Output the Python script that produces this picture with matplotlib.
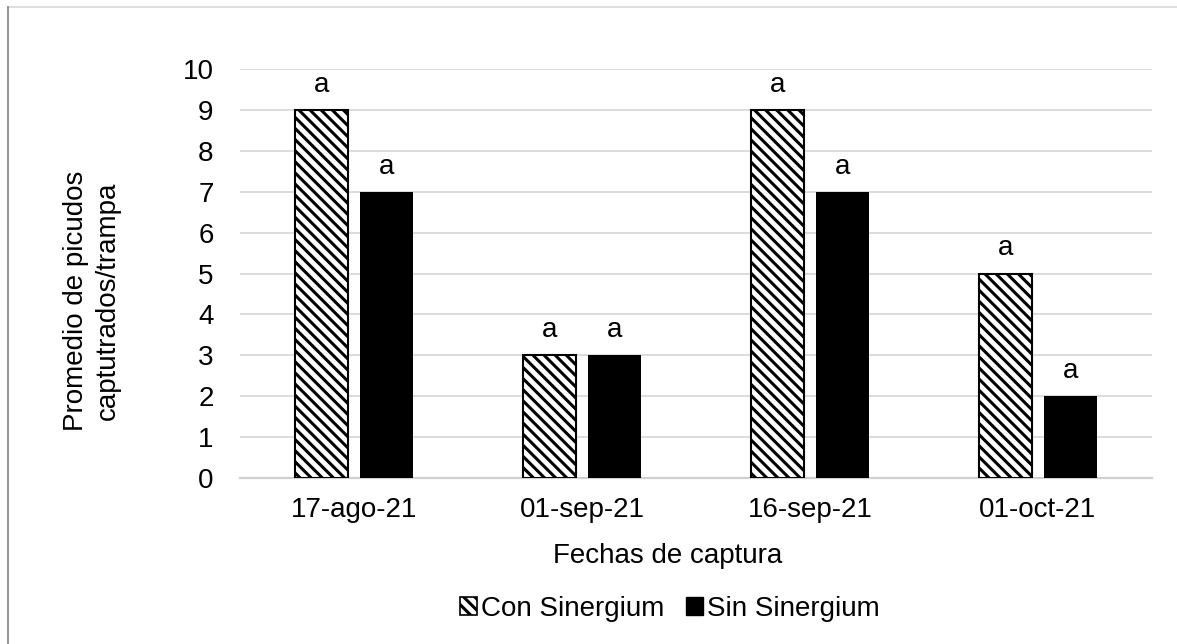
import matplotlib
matplotlib.use("Agg")
import matplotlib.pyplot as plt
import numpy as np
from matplotlib.lines import Line2D
from matplotlib.patches import Patch

fechas = ["17-ago-21", "01-sep-21", "16-sep-21", "01-oct-21"]
con_sinergium = [9, 3, 9, 5]
sin_sinergium = [7, 3, 7, 2]
letras_con = ["a", "a", "a", "a"]
letras_sin = ["a", "a", "a", "a"]

W, H = 1177, 644
FS = 20

plt.rcParams["font.family"] = ["Liberation Sans", "DejaVu Sans"]
plt.rcParams["hatch.linewidth"] = 2.2
plt.rcParams["hatch.color"] = "black"

fig = plt.figure(figsize=(W / 100, H / 100), dpi=100, facecolor="white")
ax = fig.add_axes([240 / W, 1 - 478 / H, 912 / W, 409 / H])

x = np.arange(len(fechas))
width = 0.23
offset = 0.142

bars_con = ax.bar(x - offset, con_sinergium, width, facecolor="white",
                  edgecolor="black", linewidth=1.5, hatch="\\\\\\", zorder=3)
bars_sin = ax.bar(x + offset, sin_sinergium, width, color="black", zorder=3)

for bars, letras in [(bars_con, letras_con), (bars_sin, letras_sin)]:
    for bar, txt in zip(bars, letras):
        ax.annotate(txt, (bar.get_x() + bar.get_width() / 2, bar.get_height()),
                    xytext=(0, 13), textcoords="offset points",
                    ha="center", va="baseline", fontsize=FS)

ax.set_xlim(-0.5, len(fechas) - 0.5)
ax.set_ylim(0, 10)
ax.set_yticks(range(0, 11))
ax.set_xticks(x)
ax.set_xticklabels(fechas)
ax.tick_params(axis="both", length=0, labelsize=FS)
ax.tick_params(axis="y", pad=19)
ax.tick_params(axis="x", pad=14)
ax.grid(axis="y", color="#d9d9d9", linewidth=1.3, zorder=0)
ax.set_axisbelow(True)
for side in ["top", "right", "left"]:
    ax.spines[side].set_visible(False)
ax.spines["bottom"].set_color("#d0d0d0")
ax.spines["bottom"].set_linewidth(1.6)

# axis titles placed like the original chart
fig.text(668 / W, 1 - 563 / H, "Fechas de captura", fontsize=FS,
         ha="center", va="baseline")
fig.text(92 / W, 1 - 301 / H, "Promedio de picudos\ncaptutrados/trampa",
         fontsize=FS, rotation=90, ha="center", va="center",
         multialignment="center", linespacing=1.3)

handles = [
    Patch(facecolor="white", edgecolor="black", hatch="\\\\\\", linewidth=1.2),
    Patch(facecolor="black", edgecolor="black"),
]
fig.legend(handles, ["Con Sinergium", "Sin Sinergium"], loc="center",
           bbox_to_anchor=(670 / W, 1 - 609 / H), ncol=2, frameon=False,
           fontsize=FS, handlelength=0.6, handleheight=0.6, handletextpad=0.15,
           columnspacing=0.8, borderpad=0)

# chart frame edges visible in the reference
fig.add_artist(Line2D([8 / W, 1], [1 - 7 / H] * 2, color="#d9d9d9", linewidth=1.2))
fig.add_artist(Line2D([8 / W] * 2, [0, 1 - 7 / H], color="#808080", linewidth=1.2))

fig.savefig("out.png", dpi=100, facecolor="white")
